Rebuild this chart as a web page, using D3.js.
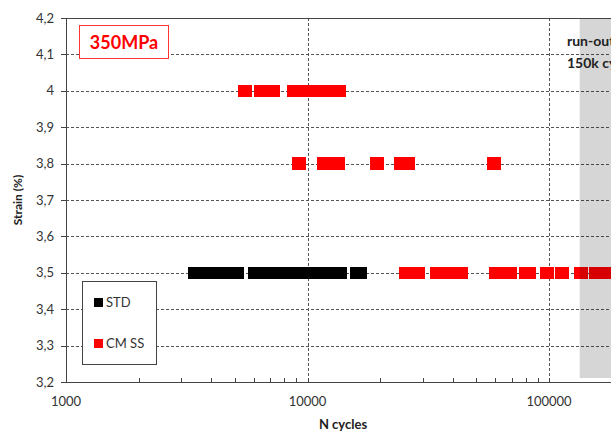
<!DOCTYPE html>
<html>
<head>
<meta charset="utf-8">
<script src="https://cdn.jsdelivr.net/npm/d3@7"></script>
<style>
  body { margin: 0; background: #fff; }
  svg { display: block; font-family: Lato, "Open Sans", sans-serif; }
</style>
</head>
<body>
<svg id="chart"></svg>
<script>
// strain levels and cycles to failure
var stdStrain = [3.5, 3.5, 3.5, 3.5, 3.5, 3.5, 3.5, 3.5, 3.5, 3.5, 3.5, 3.5, 3.5, 3.5, 3.5];
var stdCycles = [3400, 3760, 4180, 4600, 5110, 6030, 6800, 7620, 8540, 9580, 10740, 12040, 13700, 16030, 16570];

var cmStrain = [4.0, 4.0, 4.0, 4.0, 4.0, 4.0, 4.0, 4.0,
                3.8, 3.8, 3.8, 3.8, 3.8, 3.8, 3.8,
                3.5, 3.5, 3.5, 3.5, 3.5, 3.5, 3.5, 3.5, 3.5, 3.5, 3.5, 3.5, 3.5, 3.5, 3.5];
var cmCycles = [5510, 6380, 7200, 8750, 9770, 10900, 12160, 13590,
                9220, 11700, 13380, 19400, 24300, 26200, 59200,
                25460, 28680, 34380, 38540, 43210, 60330, 68960, 80000, 83070, 98100, 113200, 135700, 155800, 175500, 196800];

var xTicks = [1000, 10000, 100000, 1000000];
var yTicks = [3.2, 3.3, 3.4, 3.5, 3.6, 3.7, 3.8, 3.9, 4.0, 4.1, 4.2];
var runOutStart = 134000;

var w = 611, h = 431;
var padLeft = 66, padTop = 18, plotBottom = 382;
var gridColor = "#555";

var svg = d3.select("#chart").attr("width", w).attr("height", h);

var x = d3.scaleLog().domain([1000, 1000000]).range([padLeft, padLeft + 3 * 241.5]);
var y = d3.scaleLinear().domain([3.2, 4.2]).range([plotBottom, padTop]);

function fmtY(v) {
    return String(+v.toFixed(1)).replace(".", ",");
}

// horizontal grid
svg.append("g").selectAll("line")
    .data(yTicks.filter(function(d) { return d > 3.2 && d < 4.2; }))
    .enter().append("line")
    .attr("x1", padLeft).attr("x2", w)
    .attr("y1", function(d) { return Math.round(y(d)) + 0.5; })
    .attr("y2", function(d) { return Math.round(y(d)) + 0.5; })
    .attr("stroke", gridColor).attr("stroke-dasharray", "3,2");

// vertical grid
svg.append("g").selectAll("line")
    .data(xTicks.slice(1))
    .enter().append("line")
    .attr("x1", function(d) { return Math.round(x(d)) + 0.5; })
    .attr("x2", function(d) { return Math.round(x(d)) + 0.5; })
    .attr("y1", padTop).attr("y2", plotBottom)
    .attr("stroke", gridColor).attr("stroke-dasharray", "3,2");

// markers
function drawMarkers(cycles, strain, color) {
    svg.append("g").attr("shape-rendering", "crispEdges")
        .selectAll("rect")
        .data(cycles)
        .enter().append("rect")
        .attr("x", function(d) { return x(d) - 6.75; })
        .attr("y", function(d, i) { return y(strain[i]) - 6.25; })
        .attr("width", 13.5).attr("height", 12.5)
        .attr("fill", color);
}
drawMarkers(stdCycles, stdStrain, "#000");
drawMarkers(cmCycles, cmStrain, "#ff0000");

// run-out zone
svg.append("rect")
    .attr("x", x(runOutStart)).attr("y", padTop)
    .attr("width", w - x(runOutStart)).attr("height", plotBottom - 4 - padTop)
    .attr("fill", "rgba(0,0,0,0.16)");

svg.append("text").attr("x", 567).attr("y", 46)
    .attr("font-size", "14px").attr("font-weight", "bold").attr("fill", "#222")
    .text("run-out");
svg.append("text").attr("x", 567).attr("y", 68)
    .attr("font-size", "14px").attr("font-weight", "bold").attr("fill", "#222")
    .text("150k cycles");

// axes frame
svg.append("line").attr("x1", padLeft).attr("x2", w).attr("y1", padTop + 0.5).attr("y2", padTop + 0.5)
    .attr("stroke", "#444");
svg.append("line").attr("x1", padLeft + 0.5).attr("x2", padLeft + 0.5).attr("y1", padTop).attr("y2", plotBottom)
    .attr("stroke", "#444");
svg.append("line").attr("x1", padLeft).attr("x2", w).attr("y1", plotBottom + 0.5).attr("y2", plotBottom + 0.5)
    .attr("stroke", "#444");

// y ticks and labels
var yg = svg.append("g");
yg.selectAll("line").data(yTicks).enter().append("line")
    .attr("x1", padLeft - 5).attr("x2", padLeft)
    .attr("y1", function(d) { return Math.round(y(d)) + 0.5; })
    .attr("y2", function(d) { return Math.round(y(d)) + 0.5; })
    .attr("stroke", "#444");
yg.selectAll("text").data(yTicks).enter().append("text")
    .attr("x", 54).attr("y", function(d) { return y(d) + 4.5; })
    .attr("text-anchor", "end").attr("font-size", "13px").attr("fill", "#333")
    .text(fmtY);

// x minor ticks
var minor = [];
xTicks.slice(0, -1).forEach(function(d) {
    for (var k = 2; k <= 9; k++) minor.push(d * k);
});
svg.append("g").selectAll("line").data(minor.concat(xTicks)).enter().append("line")
    .attr("x1", function(d) { return Math.round(x(d)) + 0.5; })
    .attr("x2", function(d) { return Math.round(x(d)) + 0.5; })
    .attr("y1", plotBottom - 4).attr("y2", plotBottom)
    .attr("stroke", "#444");

svg.append("g").selectAll("text")
    .data(xTicks.filter(function(d) { return x(d) < w; }))
    .enter().append("text")
    .attr("x", function(d) { return x(d); }).attr("y", 406)
    .attr("text-anchor", "middle").attr("font-size", "13px").attr("fill", "#333")
    .text(function(d) { return d; });

// axis titles
svg.append("text").attr("x", 343).attr("y", 429)
    .attr("text-anchor", "middle").attr("font-size", "13px").attr("font-weight", "bold").attr("fill", "#222")
    .text("N cycles");
svg.append("text").attr("transform", "translate(22,200) rotate(-90)")
    .attr("text-anchor", "middle").attr("font-size", "12px").attr("font-weight", "bold").attr("fill", "#222")
    .text("Strain (%)");

// title box
svg.append("rect").attr("x", 79.5).attr("y", 25.5).attr("width", 89).attr("height", 33)
    .attr("fill", "#fff").attr("stroke", "#ff3333");
svg.append("text").attr("x", 124).attr("y", 49)
    .attr("text-anchor", "middle").attr("font-size", "18px").attr("font-weight", "bold").attr("fill", "#ff0000")
    .text("350MPa");

// legend
var legend = svg.append("g");
legend.append("rect").attr("x", 82.5).attr("y", 281.5).attr("width", 74).attr("height", 83)
    .attr("fill", "#fff").attr("stroke", "#444");
var legendItems = [["STD", "#000"], ["CM SS", "#ff0000"]];
legend.selectAll("g").data(legendItems).enter().append("g")
    .attr("transform", function(d, i) { return "translate(94," + (298 + i * 41) + ")"; })
    .each(function(d) {
        var g = d3.select(this);
        g.append("rect").attr("width", 9).attr("height", 9).attr("fill", d[1]);
        g.append("text").attr("x", 12).attr("y", 9).attr("font-size", "13px").attr("fill", "#333").text(d[0]);
    });
</script>
</body>
</html>
